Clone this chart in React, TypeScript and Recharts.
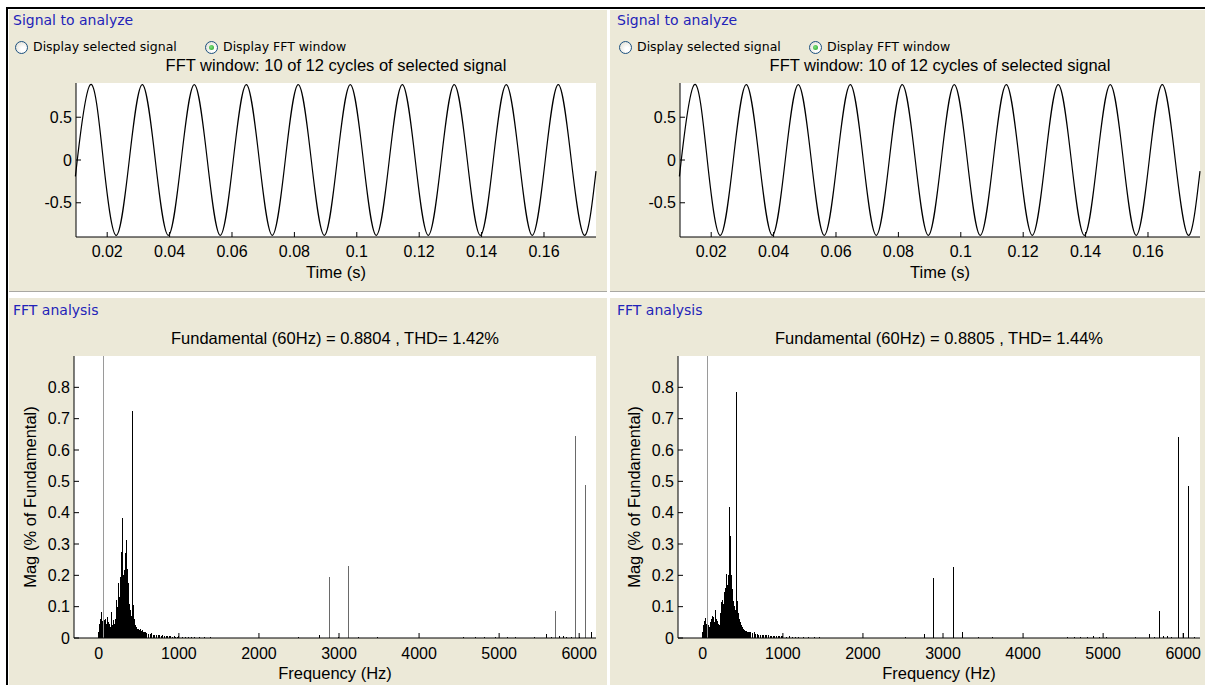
import React from 'react';
import { LineChart, Line, BarChart, Bar, XAxis, YAxis, CartesianGrid } from 'recharts';

// signal window: quarter-period points (s, value)
const sineTime = [
  0.01, 0.01041, 0.01458, 0.01874, 0.02291, 0.02708, 0.03124, 0.03541, 0.03958, 0.04374, 0.04791,
  0.05208, 0.05624, 0.06041, 0.06458, 0.06874, 0.07291, 0.07708, 0.08124, 0.08541, 0.08958,
  0.09374, 0.09791, 0.10208, 0.10624, 0.11041, 0.11458, 0.11874, 0.12291, 0.12708, 0.13124,
  0.13541, 0.13958, 0.14374, 0.14791, 0.15208, 0.15624, 0.16041, 0.16458, 0.16874, 0.17291, 0.17667,
];
const sineValue = [
  -0.13, 0, 0.88, 0, -0.88, 0, 0.88, 0, -0.88, 0, 0.88,
  0, -0.88, 0, 0.88, 0, -0.88, 0, 0.88, 0, -0.88,
  0, 0.88, 0, -0.88, 0, 0.88, 0, -0.88, 0, 0.88,
  0, -0.88, 0, 0.88, 0, -0.88, 0, 0.88, 0, -0.88, -0.13,
];
const timeTicks = [0.02, 0.04, 0.06, 0.08, 0.1, 0.12, 0.14, 0.16];
const signalTicks = [-0.5, 0, 0.5];

const freqTicks = [0, 1000, 2000, 3000, 4000, 5000, 6000];
const magTicks = [0, 0.1, 0.2, 0.3, 0.4, 0.5, 0.6, 0.7, 0.8];

// left FFT (THD 1.42%)
const hzLeft = [
  0, 10, 20, 30, 40, 50, 60, 70, 80, 90, 100, 110, 120, 130, 140, 150, 160, 170, 180, 190, 200,
  210, 220, 230, 240, 250, 260, 270, 280, 290, 300, 310, 320, 330, 340, 350, 360, 370, 380, 390, 400,
  410, 420, 430, 440, 450, 460, 470, 480, 490, 500, 510, 520, 530, 540, 550, 560, 570, 580, 590, 600,
  620, 640, 660, 680, 700, 720, 740, 760, 780, 800, 820, 840, 860, 880, 900, 920, 940, 960, 980, 1000,
  1040, 1080, 1120, 1160, 1200, 1260, 1320, 1400, 1480, 1560,
  2500, 2760, 2880, 3000, 3120, 3240, 3480, 4160, 4560, 4700, 4820, 4960, 5100, 5200, 5440,
  5590, 5660, 5710, 5760, 5800, 5840, 5900, 5950, 6010, 6080, 6150,
];
const magLeft = [
  0.02, 0.045, 0.06, 0.05, 0.083, 0.055, 1, 0.058, 0.05, 0.06, 0.045, 0.067, 0.05, 0.04, 0.045, 0.035, 0.083, 0.04, 0.05, 0.057, 0.045,
  0.06, 0.12, 0.08, 0.1, 0.175, 0.13, 0.196, 0.15, 0.276, 0.383, 0.2, 0.217, 0.16, 0.27, 0.313, 0.22, 0.175, 0.11, 0.09, 0.089,
  0.07, 0.725, 0.105, 0.062, 0.05, 0.04, 0.035, 0.03, 0.028, 0.03, 0.025, 0.028, 0.022, 0.02, 0.025, 0.02, 0.018, 0.02, 0.015, 0.016,
  0.014, 0.012, 0.015, 0.01, 0.011, 0.009, 0.01, 0.008, 0.007, 0.008, 0.006, 0.007, 0.005, 0.006, 0.005, 0.004, 0.005, 0.004, 0.004, 0.005,
  0.003, 0.003, 0.002, 0.003, 0.002, 0.002, 0.002, 0.002, 0.001, 0.001,
  0.002, 0.011, 0.194, 0.002, 0.229, 0.003, 0.002, 0.001, 0.002, 0.003, 0.002, 0.003, 0.002, 0.002, 0.002,
  0.013, 0.003, 0.087, 0.005, 0.006, 0.004, 0.003, 0.645, 0.004, 0.489, 0.02,
];

// right FFT (THD 1.44%)
const hzRight = [
  0, 10, 20, 30, 40, 50, 60, 70, 80, 90, 100, 110, 120, 130, 140, 150, 160, 170, 180, 190, 200,
  210, 220, 230, 240, 250, 260, 270, 280, 290, 300, 310, 320, 330, 340, 350, 360, 370, 380, 390, 400,
  410, 420, 430, 440, 450, 460, 470, 480, 490, 500, 510, 520, 530, 540, 550, 560, 570, 580, 590, 600,
  620, 640, 660, 680, 700, 720, 740, 760, 780, 800, 820, 840, 860, 880, 900, 920, 940, 960, 980, 1000,
  1040, 1080, 1120, 1160, 1200, 1260, 1320, 1400, 1460, 1540,
  2530, 2768, 2888, 3126, 3246, 3440, 3620, 4560, 4640, 4720, 4800, 4880, 4960, 5040, 5400,
  5585, 5640, 5704, 5760, 5800, 5850, 5943, 6010, 6072, 6140,
];
const magRight = [
  0.02, 0.04, 0.055, 0.065, 0.06, 0.045, 1, 0.04, 0.035, 0.034, 0.05, 0.06, 0.071, 0.06, 0.066, 0.05, 0.09, 0.06, 0.055, 0.045, 0.045,
  0.04, 0.08, 0.114, 0.1, 0.12, 0.11, 0.146, 0.13, 0.16, 0.204, 0.17, 0.2, 0.18, 0.417, 0.327, 0.2, 0.156, 0.119, 0.1, 0.103,
  0.09, 0.786, 0.119, 0.08, 0.077, 0.06, 0.05, 0.04, 0.035, 0.034, 0.03, 0.025, 0.023, 0.022, 0.023, 0.02, 0.02, 0.018, 0.02, 0.018,
  0.016, 0.018, 0.013, 0.013, 0.011, 0.011, 0.01, 0.009, 0.009, 0.009, 0.008, 0.007, 0.007, 0.006, 0.007, 0.006, 0.005, 0.005, 0.006, 0.006,
  0.004, 0.005, 0.004, 0.004, 0.003, 0.003, 0.003, 0.002, 0.003, 0.001,
  0.004, 0.013, 0.191, 0.228, 0.018, 0.004, 0.002, 0.003, 0.004, 0.003, 0.004, 0.005, 0.004, 0.002, 0.002,
  0.013, 0.004, 0.085, 0.005, 0.006, 0.004, 0.64, 0.016, 0.484, 0.003,
];

const fftTitles = ['Fundamental (60Hz) = 0.8804 , THD= 1.42%', 'Fundamental (60Hz) = 0.8805 , THD= 1.44%'];
const windowTitle = 'FFT window: 10 of 12 cycles of selected signal';

const BEIGE = '#ECE9D8';
const FONT = "'Liberation Sans', Arial, Helvetica, sans-serif";
const UI_FONT = "'DejaVu Sans', Tahoma, sans-serif";
const LABEL_BLUE = '#2323b8';

const sineRows = sineTime.map((t, i) => ({ t, v: sineValue[i] }));

const tickStyle = { fill: '#000', fontSize: 16, fontFamily: FONT };
const EmptyTick = () => <g />;

const makeBarShape = (spikeColor: string) => (p: any) => {
  const { x, y, width, height, payload } = p;
  if (!height || height <= 0) return <g />;
  let fill = '#000';
  if (payload.hz === 60) fill = '#9a9a9a';
  else if (payload.hz > 2800 && payload.mag > 0.05) fill = spikeColor;
  const w = Math.max(1, Math.round(width));
  return (
    <rect
      x={Math.round(x + width / 2 - w / 2)}
      y={y}
      width={w}
      height={height}
      fill={fill}
      shapeRendering="crispEdges"
    />
  );
};

const Text = ({ x, y, children, size = 16.5, color = '#000', family = FONT, center = false }: any) => (
  <div
    style={{
      position: 'absolute',
      left: center ? x - 300 : x,
      top: y - 10,
      width: center ? 600 : undefined,
      height: 20,
      lineHeight: '20px',
      textAlign: center ? 'center' : 'left',
      fontSize: size,
      color,
      fontFamily: family,
      whiteSpace: 'nowrap',
    }}
  >
    {children}
  </div>
);

const Radio = ({ x, y, checked }: { x: number; y: number; checked?: boolean }) => (
  <div
    style={{
      position: 'absolute',
      left: x - 6.5,
      top: y - 6.5,
      width: 11,
      height: 11,
      borderRadius: '50%',
      border: '1px solid #1c5180',
      background: 'radial-gradient(circle at 65% 65%, #ffffff 20%, #dcd9cc 100%)',
    }}
  >
    {checked && (
      <div
        style={{
          position: 'absolute',
          left: 3,
          top: 3,
          width: 5,
          height: 5,
          borderRadius: '50%',
          background: 'radial-gradient(circle at 40% 40%, #7fe07f, #21a121)',
        }}
      />
    )}
  </div>
);

const SignalPanel = ({ dx, panelLeft, panelWidth, chartWidth, marginRight }: any) => (
  <>
    <div
      style={{
        position: 'absolute',
        left: panelLeft,
        top: 10,
        width: panelWidth,
        height: 281,
        background: BEIGE,
        borderBottom: '1px solid #a9a8a2',
      }}
    />
    <Text x={dx + 13} y={20} size={14} color={LABEL_BLUE} family={UI_FONT}>
      Signal to analyze
    </Text>
    <Radio x={dx + 21} y={47} />
    <Text x={dx + 33} y={47} size={12.5} family={UI_FONT}>
      Display selected signal
    </Text>
    <Radio x={dx + 211} y={47} checked />
    <Text x={dx + 223} y={47} size={12.5} family={UI_FONT}>
      Display FFT window
    </Text>
    <Text x={dx + 336} y={65} center>
      {windowTitle}
    </Text>
    <div style={{ position: 'absolute', left: dx, top: 55 }}>
      <LineChart
        width={chartWidth}
        height={230}
        data={sineRows}
        margin={{ top: 28, right: marginRight, bottom: 0, left: 16 }}
      >
        <CartesianGrid horizontal={false} vertical={false} fill="#fff" />
        <XAxis
          dataKey="t"
          type="number"
          domain={[0.01, 0.17667]}
          ticks={timeTicks}
          height={48}
          tickSize={-5}
          tickMargin={14}
          tick={tickStyle}
          axisLine={{ stroke: '#000' }}
          tickLine={{ stroke: '#000' }}
          label={{ value: 'Time (s)', position: 'insideBottom', offset: 7, fill: '#000', fontSize: 16.5, fontFamily: FONT }}
        />
        <XAxis
          xAxisId="top"
          orientation="top"
          dataKey="t"
          type="number"
          domain={[0.01, 0.17667]}
          ticks={timeTicks}
          height={0}
          tickSize={-5}
          tick={EmptyTick}
          axisLine={{ stroke: '#000' }}
          tickLine={{ stroke: '#000' }}
        />
        <YAxis
          type="number"
          domain={[-0.9, 0.9]}
          ticks={signalTicks}
          width={60}
          tickSize={-5}
          tickMargin={9}
          tick={tickStyle}
          axisLine={{ stroke: '#000' }}
          tickLine={{ stroke: '#000' }}
        />
        <YAxis
          yAxisId="r"
          orientation="right"
          type="number"
          domain={[-0.9, 0.9]}
          ticks={signalTicks}
          width={0}
          tickSize={-5}
          tick={EmptyTick}
          axisLine={{ stroke: '#000' }}
          tickLine={{ stroke: '#000' }}
        />
        <Line
          type="natural"
          dataKey="v"
          stroke="#000"
          strokeWidth={1.2}
          dot={false}
          isAnimationActive={false}
        />
      </LineChart>
    </div>
  </>
);

const FftPanel = ({ dx, panelLeft, panelWidth, chartWidth, marginRight, hz, mag, title, spikeColor }: any) => {
  const rows = hz.map((h: number, i: number) => ({ hz: h, mag: mag[i] }));
  return (
    <>
      <div
        style={{
          position: 'absolute',
          left: panelLeft,
          top: 298,
          width: panelWidth,
          height: 387,
          background: BEIGE,
        }}
      />
      <Text x={dx + 13} y={310} size={14} color={LABEL_BLUE} family={UI_FONT}>
        FFT analysis
      </Text>
      <Text x={dx + 335} y={338} center>
        {title}
      </Text>
      <div style={{ position: 'absolute', left: dx, top: 330 }}>
        <BarChart
          width={chartWidth}
          height={353}
          data={rows}
          barSize={1}
          margin={{ top: 26, right: marginRight, bottom: 0, left: 24 }}
        >
          <CartesianGrid horizontal={false} vertical={false} fill="#fff" />
          <XAxis
            dataKey="hz"
            type="number"
            domain={[-310, 6210]}
            ticks={freqTicks}
            height={45}
            tickSize={-5}
            tickMargin={15}
            tick={tickStyle}
            axisLine={{ stroke: '#000' }}
            tickLine={{ stroke: '#000' }}
            label={{ value: 'Frequency (Hz)', position: 'insideBottom', offset: 4, fill: '#000', fontSize: 16.5, fontFamily: FONT }}
          />
          <XAxis
            xAxisId="top"
            orientation="top"
            dataKey="hz"
            type="number"
            domain={[-310, 6210]}
            ticks={freqTicks}
            height={0}
            tickSize={-5}
            tick={EmptyTick}
            axisLine={{ stroke: '#000' }}
            tickLine={{ stroke: '#000' }}
          />
          <YAxis
            type="number"
            domain={[0, 0.9]}
            allowDataOverflow
            ticks={magTicks}
            width={50}
            tickSize={-5}
            tickMargin={9}
            tick={tickStyle}
            axisLine={{ stroke: '#000' }}
            tickLine={{ stroke: '#000' }}
            label={{
              value: 'Mag (% of Fundamental)',
              angle: -90,
              position: 'insideLeft',
              offset: 6,
              fill: '#000',
              fontSize: 16.5,
              fontFamily: FONT,
              style: { textAnchor: 'middle' },
            }}
          />
          <YAxis
            yAxisId="r"
            orientation="right"
            type="number"
            domain={[0, 0.9]}
            ticks={magTicks}
            width={0}
            tickSize={-5}
            tick={EmptyTick}
            axisLine={{ stroke: '#000' }}
            tickLine={{ stroke: '#000' }}
          />
          <Bar dataKey="mag" shape={makeBarShape(spikeColor)} isAnimationActive={false} />
        </BarChart>
      </div>
    </>
  );
};

export default function App() {
  return (
    <div
      style={{
        position: 'absolute',
        left: 0,
        top: 0,
        width: 1205,
        height: 685,
        overflow: 'hidden',
        background: '#fff',
        fontFamily: FONT,
      }}
    >
      <SignalPanel dx={0} panelLeft={9} panelWidth={598} chartWidth={605} marginRight={9} />
      <SignalPanel dx={604} panelLeft={610} panelWidth={595} chartWidth={600} marginRight={4} />
      <FftPanel
        dx={0}
        panelLeft={9}
        panelWidth={598}
        chartWidth={605}
        marginRight={9}
        hz={hzLeft}
        mag={magLeft}
        title={fftTitles[0]}
        spikeColor="#6a6a6a"
      />
      <FftPanel
        dx={604}
        panelLeft={610}
        panelWidth={595}
        chartWidth={600}
        marginRight={4}
        hz={hzRight}
        mag={magRight}
        title={fftTitles[1]}
        spikeColor="#000"
      />
      <div style={{ position: 'absolute', left: 6, top: 7, width: 1199, height: 2, background: '#000' }} />
      <div style={{ position: 'absolute', left: 6, top: 7, width: 2, height: 678, background: '#000' }} />
    </div>
  );
}
